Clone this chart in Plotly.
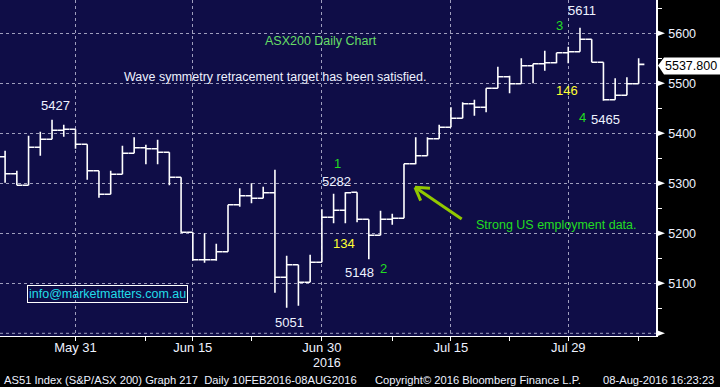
import plotly.graph_objects as go

# ---------------- data ----------------
dates = [
    "2016-05-23", "2016-05-24", "2016-05-25", "2016-05-26", "2016-05-27", "2016-05-30", "2016-05-31",
    "2016-06-01", "2016-06-02", "2016-06-03", "2016-06-06", "2016-06-07", "2016-06-08", "2016-06-09",
    "2016-06-10", "2016-06-14", "2016-06-15", "2016-06-16", "2016-06-17", "2016-06-20", "2016-06-21",
    "2016-06-22", "2016-06-23", "2016-06-24", "2016-06-27", "2016-06-28", "2016-06-29", "2016-06-30",
    "2016-07-01", "2016-07-04", "2016-07-05", "2016-07-06", "2016-07-07", "2016-07-08", "2016-07-11",
    "2016-07-12", "2016-07-13", "2016-07-14", "2016-07-15", "2016-07-18", "2016-07-19", "2016-07-20",
    "2016-07-21", "2016-07-22", "2016-07-25", "2016-07-26", "2016-07-27", "2016-07-28", "2016-07-29",
    "2016-08-01", "2016-08-02", "2016-08-03", "2016-08-04", "2016-08-05", "2016-08-08",
]
open_ = [5353, 5319, 5296, 5372, 5388, 5406, 5408, 5378, 5325, 5278, 5318, 5360, 5371, 5369,
         5362, 5312, 5202, 5147, 5147, 5163, 5257, 5275, 5270, 5281, 5112, 5137, 5102, 5142,
         5232, 5246, 5282, 5228, 5196, 5228, 5230, 5339, 5355, 5389, 5412, 5430, 5459, 5452,
         5490, 5513, 5499, 5535, 5539, 5541, 5561, 5563, 5588, 5542, 5467, 5476, 5499]
high = [5365, 5325, 5395, 5403, 5427, 5417, 5408, 5378, 5325, 5325, 5375, 5392, 5377, 5387,
        5362, 5312, 5202, 5200, 5179, 5257, 5290, 5300, 5293, 5327, 5155, 5137, 5157, 5248,
        5279, 5282, 5282, 5228, 5245, 5239, 5339, 5392, 5392, 5417, 5452, 5462, 5467, 5490,
        5533, 5515, 5550, 5539, 5565, 5561, 5573, 5611, 5588, 5542, 5510, 5512, 5550]
low = [5301, 5296, 5296, 5355, 5388, 5393, 5369, 5307, 5271, 5278, 5318, 5360, 5338, 5338,
       5296, 5201, 5145, 5141, 5145, 5163, 5253, 5260, 5270, 5081, 5051, 5055, 5102, 5142,
       5220, 5220, 5222, 5148, 5196, 5217, 5230, 5338, 5355, 5389, 5412, 5430, 5435, 5442,
       5490, 5480, 5499, 5500, 5525, 5540, 5540, 5563, 5542, 5465, 5467, 5476, 5499]
close = [5319, 5296, 5372, 5388, 5406, 5408, 5378, 5325, 5278, 5318, 5360, 5371, 5369, 5362,
         5312, 5202, 5147, 5147, 5163, 5257, 5275, 5270, 5281, 5112, 5137, 5102, 5142, 5232,
         5246, 5281, 5228, 5196, 5228, 5230, 5339, 5355, 5389, 5412, 5430, 5459, 5452, 5490,
         5513, 5499, 5535, 5539, 5541, 5561, 5563, 5588, 5542, 5467, 5476, 5499, 5537.8]

x_tick_dates = ["2016-05-31", "2016-06-15", "2016-06-30", "2016-07-15", "2016-07-29"]
x_tick_labels = ["May 31", "Jun 15", "Jun 30", "Jul 15", "Jul 29"]
x_minor_dates = ["2016-06-08", "2016-06-22", "2016-07-08", "2016-07-22", "2016-08-08"]
y_tick_vals = [5100, 5200, 5300, 5400, 5500, 5600]
y_tick_labels = ["5100", "5200", "5300", "5400", "5500", "5600"]
last_price_label = "5537.800"

# ---------------- layout helpers ----------------
W, H = 720, 387
ML, MR, MT, MB = 0, 64, 0, 51
PW, PH = W - ML - MR, H - MT - MB
YMIN, YMAX = 4994.6, 5666.6
XMIN, XMAX = -0.435, 55.48


def px(x):
    return (x - ML) / PW


def py(y):
    return 1 - (y - MT) / PH


def yv(v):
    return (v - YMIN) / (YMAX - YMIN)


idx = list(range(len(dates)))
pos = {d: i for i, d in enumerate(dates)}

BG = "#0f0d47"
WHITE = "#eef2ff"
GREEN = "#22dd22"
YELLOW = "#ffff33"
GRID = "rgba(185,185,210,0.85)"
SANS = "Liberation Sans, Arial, sans-serif"

fig = go.Figure()
fig.add_trace(go.Ohlc(
    x=idx, open=open_, high=high, low=low, close=close,
    increasing=dict(line=dict(color="white", width=1.6)),
    decreasing=dict(line=dict(color="white", width=1.6)),
    tickwidth=0.49, hoverinfo="skip", showlegend=False,
))

annotations = []


def txt(text, x, y, color, size=13, xanchor="center", font=SANS, **kw):
    annotations.append(dict(text=text, x=px(x), y=py(y), xref="paper", yref="paper",
                            xanchor=xanchor, yanchor="middle", showarrow=False,
                            font=dict(color=color, size=size, family=font), **kw))


txt("ASX200 Daily Chart", 263, 41, "#66dd66", 12.5, xanchor="left")
txt("Wave symmetry retracement target has been satisfied.", 122, 77, WHITE, 12.5, xanchor="left")
txt("5427", 55, 105, WHITE)
txt("1", 337, 163, GREEN)
txt("5282", 336, 181, WHITE)
txt("134", 344, 243, YELLOW)
txt("5148", 359, 272, WHITE)
txt("2", 383, 268, GREEN)
txt("5051", 289, 322, WHITE)
txt("3", 559, 26, GREEN)
txt("5611", 582, 10, WHITE)
txt("146", 567, 91, YELLOW)
txt("4", 582, 117, GREEN)
txt("5465", 605, 119, WHITE)
txt("Strong US employment data.", 474, 225, GREEN, 12.5, xanchor="left")
txt("info@marketmatters.com.au", 107, 293.5, "#22dde8", 12.5,
    bordercolor="white", borderwidth=1, borderpad=1)
txt("2016", 327, 363, WHITE, 12.5)
txt(last_price_label, 691, 66, "black", 12.5)
txt("AS51 Index (S&P/ASX 200) Graph 217  Daily 10FEB2016-08AUG2016", 2, 379.5, WHITE, 11.2,
    xanchor="left")
txt("Copyright\u00a9 2016 Bloomberg Finance L.P.", 373, 379.5, WHITE, 11.2, xanchor="left")
txt("08-Aug-2016 16:23:23", 601, 379.5, WHITE, 11.2, xanchor="left")

shapes = []
# arrow
ARROW = "#92c800"
for (x0, y0, x1, y1) in [(461.7, 219, 415, 187.3), (415, 187.3, 430, 188.3), (415, 187.3, 420.7, 200.7)]:
    shapes.append(dict(type="line", xref="paper", yref="paper", x0=px(x0), y0=py(y0), x1=px(x1), y1=py(y1),
                       line=dict(color=ARROW, width=3)))
# right-axis triangles
for v in y_tick_vals + [5000]:
    yc = yv(v)
    d = 3 / PH
    shapes.append(dict(type="path", xref="paper", yref="paper",
                       path=f"M {px(657)},{yc + d} L {px(657)},{yc - d} L {px(665)},{yc} Z",
                       fillcolor="white", line=dict(width=0)))
# last price box
shapes.append(dict(type="path", xref="paper", yref="paper",
                   path=(f"M {px(658)},{py(65.5)} L {px(664)},{py(57.5)} L {px(720)},{py(57.5)} "
                         f"L {px(720)},{py(74.5)} L {px(664)},{py(74.5)} Z"),
                   fillcolor="white", line=dict(width=0)))

fig.update_layout(
    width=W, height=H,
    margin=dict(l=ML, r=MR, t=MT, b=MB, pad=0),
    paper_bgcolor="black", plot_bgcolor=BG,
    showlegend=False,
    annotations=annotations, shapes=shapes,
    xaxis=dict(
        range=[XMIN, XMAX], rangeslider=dict(visible=False),
        tickmode="array", tickvals=[pos[d] for d in x_tick_dates], ticktext=x_tick_labels,
        ticks="outside", ticklen=4, tickcolor="white", tickwidth=1,
        tickfont=dict(color=WHITE, size=13, family=SANS), ticklabelstandoff=-5,
        showgrid=True, gridcolor=GRID, griddash="dot", gridwidth=1,
        showline=True, linecolor="white", linewidth=1,
        minor=dict(tickvals=[pos[d] for d in x_minor_dates], ticks="outside", ticklen=4,
                   tickcolor="white", showgrid=False),
        zeroline=False, fixedrange=True,
    ),
    yaxis=dict(
        range=[YMIN, YMAX], side="right",
        tickmode="array", tickvals=y_tick_vals, ticktext=y_tick_labels,
        ticks="outside", ticklen=8, tickcolor="black",
        tickfont=dict(color=WHITE, size=12.5, family=SANS),
        showgrid=True, gridcolor=GRID, griddash="dot", gridwidth=1,
        showline=True, linecolor="white", linewidth=1.5,
        minor=dict(dtick=50, tick0=5000, ticks="outside", ticklen=4, tickcolor="white", showgrid=False),
        zeroline=False, fixedrange=True,
    ),
)
# extra 5000 gridline (bottom dashed line)
fig.add_hline(y=5000, line=dict(color=GRID, width=1, dash="dot"))

fig.write_html("out.html", config={"displayModeBar": False},
               post_script="document.body.style.margin='0';document.body.style.overflow='hidden';")
